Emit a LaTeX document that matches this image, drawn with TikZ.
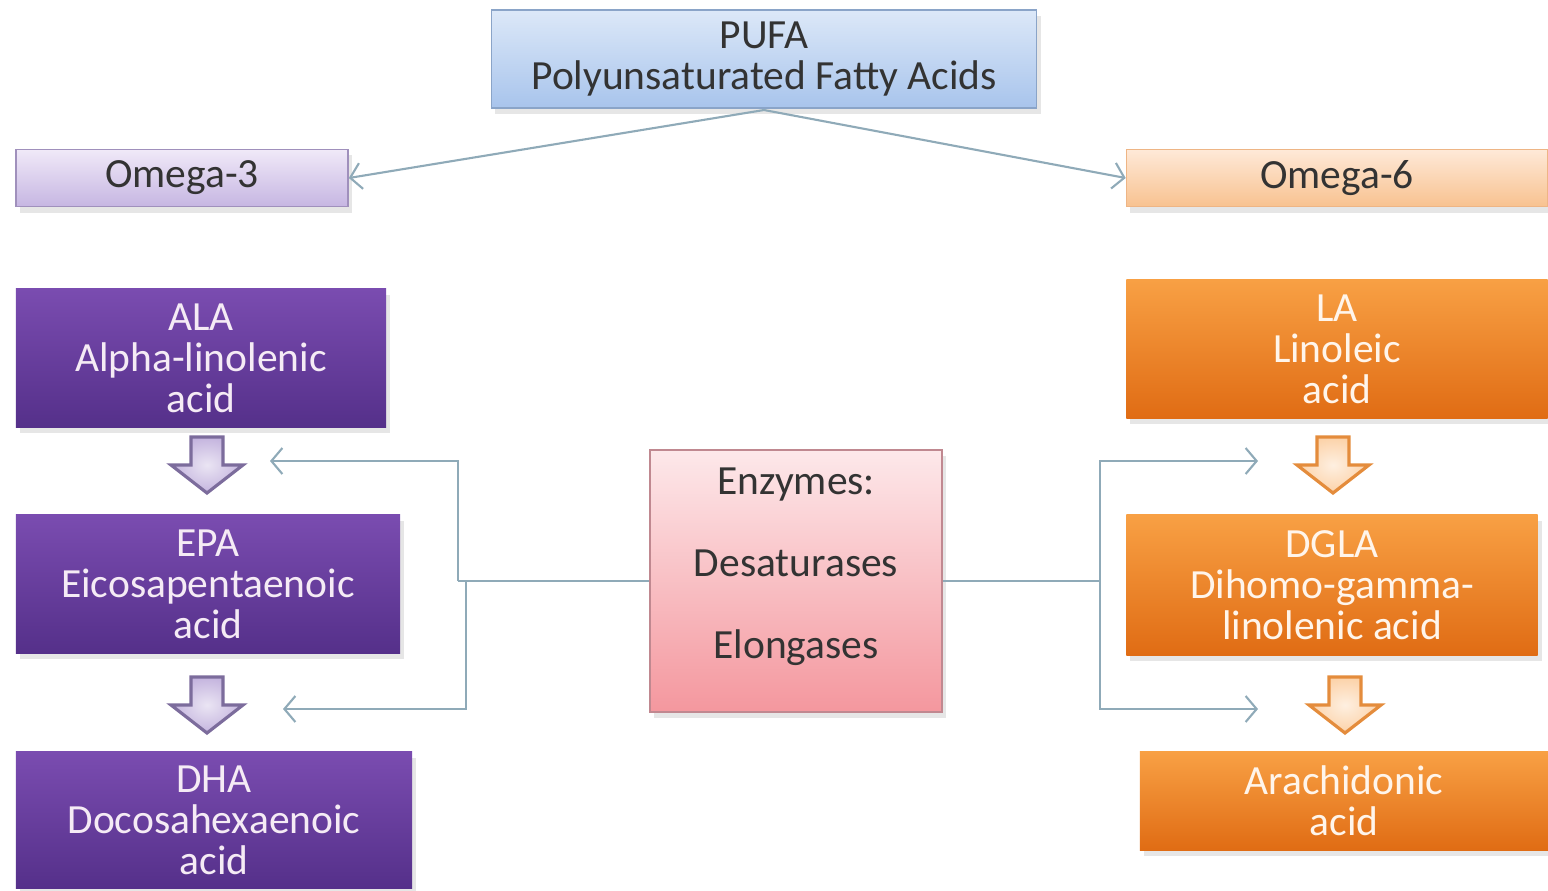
\documentclass[tikz,border=0pt]{standalone}
\usepackage{fontspec}
\setmainfont{Carlito}
\usepackage{tikz}
\usetikzlibrary{arrows.meta,shadows}

\definecolor{pufatop}{HTML}{DCE8F8}
\definecolor{pufabot}{HTML}{A8C4EC}
\definecolor{pufaline}{HTML}{8AA4C8}
\definecolor{othreetop}{HTML}{F0E9F8}
\definecolor{othreebot}{HTML}{C6B6E2}
\definecolor{othreeline}{HTML}{A090BC}
\definecolor{osixtop}{HTML}{FEE9D8}
\definecolor{osixbot}{HTML}{F8C290}
\definecolor{osixline}{HTML}{EEB585}
\definecolor{ppltop}{HTML}{7A4CB0}
\definecolor{pplbot}{HTML}{55308A}
\definecolor{orgtop}{HTML}{F8A044}
\definecolor{orgbot}{HTML}{E06C14}
\definecolor{enztop}{HTML}{FDE8EA}
\definecolor{enzbot}{HTML}{F4979E}
\definecolor{enzline}{HTML}{C08890}
\definecolor{lavfill}{HTML}{C4B4DE}
\definecolor{lavdraw}{HTML}{7C6C9C}
\definecolor{pchfill}{HTML}{FCD2A8}
\definecolor{pchdraw}{HTML}{E48C3C}
\definecolor{link}{HTML}{8FAAB8}

\begin{document}
\begin{tikzpicture}[x=0.01cm,y=-0.01cm,>={Straight Barb[length=1.1mm,width=2.6mm]},
                    font=\fontsize{11.8}{11.7}\selectfont]
  \tikzstyle{box}=[rectangle,inner sep=0pt,align=center,
                   drop shadow={shadow xshift=0.4mm,shadow yshift=-0.6mm,opacity=0.2}]
  \tikzstyle{pufabox}=[box,top color=pufatop,bottom color=pufabot,draw=pufaline,text=black!80]
  \tikzstyle{othreebox}=[box,top color=othreetop,bottom color=othreebot,draw=othreeline,text=black!80]
  \tikzstyle{osixbox}=[box,top color=osixtop,bottom color=osixbot,draw=osixline,text=black!80]
  \tikzstyle{pplbox}=[box,top color=ppltop,bottom color=pplbot,text=white!92!violet]
  \tikzstyle{orgbox}=[box,top color=orgtop,bottom color=orgbot,text=white!92!orange]
  \tikzstyle{enzbox}=[box,top color=enztop,bottom color=enzbot,draw=enzline,text=black!80]
  \tikzstyle{link}=[draw=link,semithick]

  \useasboundingbox (0,0) rectangle (1548,890);

  \node[pufabox,minimum width=5.45cm,minimum height=0.98cm] (pufa) at (764,59)
       {PUFA\\Polyunsaturated Fatty Acids};
  \node[othreebox,minimum width=3.32cm,minimum height=0.57cm] (omega3) at (182,178) {Omega-3};
  \node[osixbox,minimum width=4.21cm,minimum height=0.57cm] (omega6) at (1337,178) {Omega-6};

  \node[pplbox,minimum width=3.70cm,minimum height=1.38cm] (ala) at (201,358)
       {ALA\\Alpha-linolenic\\acid};
  \node[pplbox,minimum width=3.84cm,minimum height=1.38cm] (epa) at (208,584)
       {EPA\\Eicosapentaenoic\\acid};
  \node[pplbox,minimum width=3.96cm,minimum height=1.36cm] (dha) at (214,820)
       {DHA\\Docosahexaenoic\\acid};

  \node[orgbox,minimum width=4.21cm,minimum height=1.38cm] (la) at (1337,349)
       {LA\\Linoleic\\acid};
  \node[orgbox,minimum width=4.11cm,minimum height=1.40cm] (dgla) at (1332,585)
       {DGLA\\Dihomo-gamma-\\linolenic acid};
  \node[orgbox,minimum width=4.08cm,minimum height=0.98cm] (aa) at (1344,801)
       {Arachidonic\\acid};

  \node[enzbox,minimum width=2.92cm,minimum height=2.62cm] (enz) at (796,581)
       {Enzymes:\\[0.41cm]Desaturases\\[0.41cm]Elongases\\[-0.05cm]\mbox{}};

  % block arrows between the acids
  \foreach \cx/\ty/\fc/\dc in {207/437/lavfill/lavdraw,207/677/lavfill/lavdraw,
                                1333/437/pchfill/pchdraw,1345/677/pchfill/pchdraw}
    \draw[draw=\dc,line width=0.9pt,line join=miter,inner color=\fc!35!white,outer color=\fc]
      ({\cx-16},\ty) -- ({\cx+16},\ty) -- ({\cx+16},{\ty+28}) -- ({\cx+36},{\ty+28})
      -- (\cx,{\ty+56}) -- ({\cx-36},{\ty+28}) -- ({\cx-16},{\ty+28}) -- cycle;

  \coordinate (pufab) at (764,110);
  \coordinate (jla) at (458,581);
  \coordinate (jlb) at (466,581);
  \coordinate (jr) at (1100,581);
  \coordinate (ta) at (270,461);
  \coordinate (tb) at (283,709);
  \coordinate (tc) at (1258,461);
  \coordinate (td) at (1258,709);

  \draw[link,->] (pufab) -- (omega3.east);
  \draw[link,->] (pufab) -- (omega6.west);

  \draw[link] (enz.west) -- (jla);
  \draw[link,->] (jla) |- (ta);
  \draw[link,->] (jlb) |- (tb);
  \draw[link] (enz.east) -- (jr);
  \draw[link,->] (jr) |- (tc);
  \draw[link,->] (jr) |- (td);
\end{tikzpicture}
\end{document}
